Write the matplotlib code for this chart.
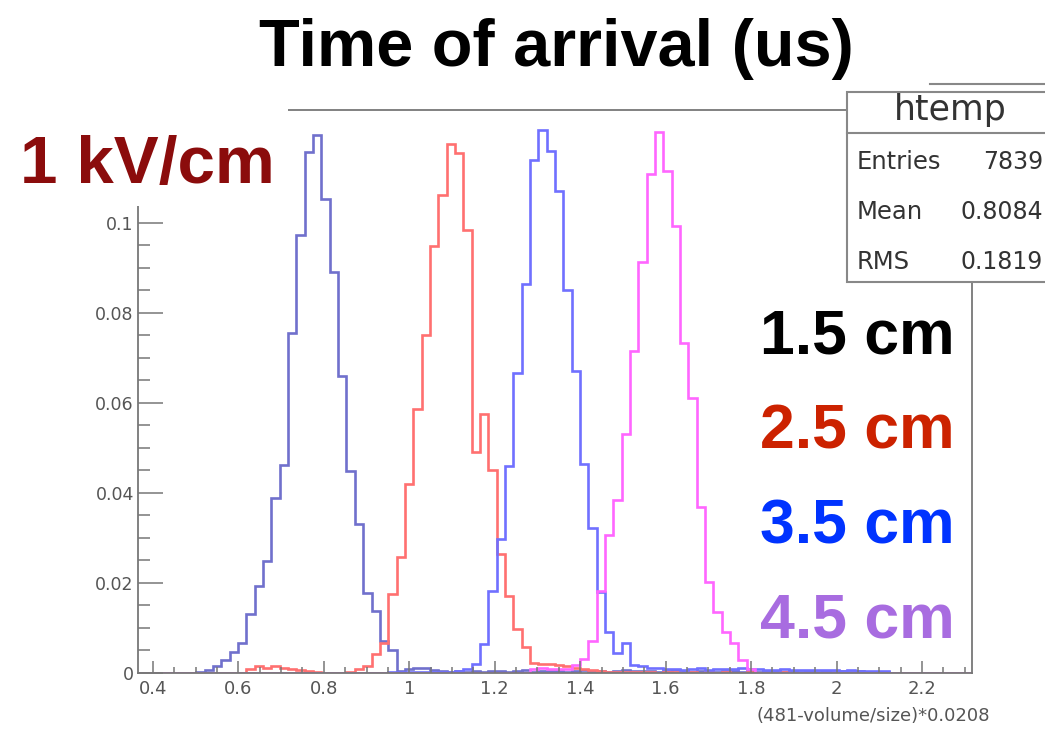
import numpy as np
import matplotlib.pyplot as plt
from matplotlib.patches import Rectangle
from matplotlib.lines import Line2D
from matplotlib.ticker import MultipleLocator, FixedLocator, FuncFormatter

# htemp binning: 100 bins over the axis range
x_lo, x_hi, n_bins = 0.365, 2.317, 100
y_ticks = [0, 0.02, 0.04, 0.06, 0.08, 0.1]

labels = ["1.5 cm", "2.5 cm", "3.5 cm", "4.5 cm"]
label_colors = ["black", "#cc2200", "#0033ff", "#a86ce0"]
line_colors = ["#7070cc", "#ff7070", "#7070ff", "#ff66ff"]

h15 = [0, 0, 0, 0, 0, 0, 0, 0.0003, 0.0006, 0.0016,
       0.0028, 0.0047, 0.0067, 0.0131, 0.0194, 0.0249, 0.0388, 0.0463, 0.0756, 0.0973,
       0.1158, 0.1195, 0.1053, 0.0892, 0.0659, 0.0449, 0.0332, 0.0178, 0.0138, 0.0071,
       0.0051, 0.0005, 0.0009, 0.0012, 0.0010, 0.0006, 0.0004, 0.0003, 0.0005, 0.0003,
       0.0004, 0.0003, 0.0005, 0.0004, 0.0003, 0.0004, 0.0006, 0.0003, 0.0004, 0.0005,
       0.0004, 0.0003, 0.0005, 0.0006, 0.0004, 0.0005, 0.0003, 0.0004, 0.0006, 0.0005,
       0.0004, 0.0005, 0.0003, 0.0004, 0.0006, 0.0004, 0.0003, 0.0005, 0.0004, 0.0003,
       0.0004, 0.0005, 0.0003, 0.0004, 0.0003, 0.0005, 0.0004, 0.0003, 0.0004, 0.0003,
       0.0004, 0.0003, 0.0004, 0.0003, 0.0005, 0.0003, 0.0004, 0.0003, 0.0003, 0.0002,
       0, 0, 0, 0, 0, 0, 0, 0, 0, 0]

h25 = [0, 0, 0, 0, 0, 0, 0, 0, 0, 0,
       0, 0, 0, 0.0008, 0.0015, 0.0012, 0.0016, 0.0010, 0.0008, 0.0006,
       0.0005, 0.0003, 0.0001, 0.0001, 0.0001, 0.0002, 0.0008, 0.0016, 0.0043, 0.0066,
       0.0175, 0.0257, 0.0420, 0.0587, 0.0751, 0.0949, 0.1062, 0.1175, 0.1155, 0.0984,
       0.0490, 0.0576, 0.0451, 0.0265, 0.0171, 0.0097, 0.0058, 0.0023, 0.0020, 0.0019,
       0.0018, 0.0016, 0.0012, 0.0009, 0.0006, 0.0004, 0.0002, 0.0002, 0.0003, 0.0002,
       0.0002, 0.0002, 0.0001, 0.0002, 0.0002, 0.0001, 0.0002, 0.0001, 0.0002, 0.0001,
       0.0002, 0.0001, 0.0001, 0.0002, 0.0001, 0.0001, 0.0001, 0.0002, 0.0001, 0.0001,
       0.0001, 0.0001, 0.0001, 0.0001, 0.0001, 0, 0, 0, 0, 0,
       0, 0, 0, 0, 0, 0, 0, 0, 0, 0]

h35 = [0, 0, 0, 0, 0, 0, 0, 0, 0, 0,
       0, 0, 0, 0, 0, 0, 0, 0, 0, 0,
       0, 0, 0, 0, 0, 0, 0, 0, 0, 0,
       0.0002, 0.0003, 0.0002, 0.0003, 0.0002, 0.0003, 0.0002, 0.0003, 0.0004, 0.0008,
       0.0020, 0.0064, 0.0183, 0.0298, 0.0461, 0.0667, 0.0865, 0.1139, 0.1207, 0.1159,
       0.1072, 0.0850, 0.0671, 0.0464, 0.0322, 0.0179, 0.0091, 0.0044, 0.0067, 0.0018,
       0.0015, 0.0012, 0.0010, 0.0008, 0.0009, 0.0007, 0.0008, 0.0010, 0.0007, 0.0008,
       0.0009, 0.0008, 0.0010, 0.0009, 0.0008, 0.0007, 0.0006, 0.0008, 0.0007, 0.0006,
       0.0007, 0.0006, 0.0007, 0.0006, 0.0005, 0.0006, 0.0005, 0.0004, 0.0005, 0.0004,
       0, 0, 0, 0, 0, 0, 0, 0, 0, 0]

h45 = [0, 0, 0, 0, 0, 0, 0, 0, 0, 0,
       0, 0, 0, 0, 0, 0, 0, 0, 0, 0,
       0, 0, 0, 0, 0, 0, 0, 0, 0, 0,
       0, 0, 0, 0, 0, 0, 0, 0, 0, 0,
       0, 0, 0, 0, 0, 0, 0, 0.0008, 0.0010, 0.0009,
       0.0008, 0.0009, 0.0018, 0.0032, 0.0071, 0.0183, 0.0306, 0.0385, 0.0532, 0.0715,
       0.0913, 0.1108, 0.1203, 0.1116, 0.0993, 0.0734, 0.0611, 0.0369, 0.0202, 0.0135,
       0.0091, 0.0067, 0.0028, 0.0008, 0, 0, 0, 0, 0, 0,
       0, 0, 0, 0, 0, 0, 0, 0, 0, 0,
       0, 0, 0, 0, 0, 0, 0, 0, 0, 0]

stats_names = ["Entries", "Mean", "RMS"]
stats_values = ["7839", "0.8084", "0.1819"]

W, H = 1045, 729


def fx(x):
    return x / W


def fy(y):
    return 1 - y / H


fig = plt.figure(figsize=(W / 100, H / 100), dpi=100)
ax = fig.add_axes([fx(138), fy(673), fx(972 - 138), (673 - 110) / H])

edges = np.linspace(x_lo, x_hi, n_bins + 1)
for vals, c in zip([h15, h25, h35, h45], line_colors):
    ax.stairs(vals, edges, color=c, lw=1.9, baseline=0)

ax.set_xlim(x_lo, x_hi)
ax.set_ylim(0, 0.1251)

gray = "#777777"
for s in ax.spines.values():
    s.set_color(gray)
    s.set_linewidth(1.3)

ax.xaxis.set_major_locator(MultipleLocator(0.2))
ax.xaxis.set_minor_locator(MultipleLocator(0.05))
ax.yaxis.set_major_locator(FixedLocator(y_ticks))
ax.yaxis.set_minor_locator(FixedLocator(np.arange(0, 0.1001, 0.005)))
fmt = FuncFormatter(lambda v, p: f"{v:g}")
ax.xaxis.set_major_formatter(fmt)
ax.yaxis.set_major_formatter(fmt)
ax.tick_params(axis="x", which="major", direction="in", length=8.5, width=1.1,
               color=gray, labelcolor="#555555", labelsize=13, pad=5)
ax.tick_params(axis="x", which="minor", direction="in", length=4.3, width=1.1, color=gray)
ax.tick_params(axis="y", which="major", direction="in", length=18, width=1.1,
               color=gray, labelcolor="#555555", labelsize=12.5, pad=3)
ax.tick_params(axis="y", which="minor", direction="in", length=8.6, width=1.1, color=gray)

# white label box covering the upper-left frame corner
fig.patches.append(Rectangle((0, fy(206)), fx(288), (206 - 96) / H,
                             transform=fig.transFigure, facecolor="white",
                             edgecolor="none", zorder=2))
fig.text(fx(20), fy(183), "1 kV/cm", fontsize=48.5, fontweight="bold",
         family="Liberation Sans", color="#8b0c0c", zorder=3)

# stats box
fig.patches.append(Rectangle((fx(847), fy(282)), fx(220), (282 - 92) / H,
                             transform=fig.transFigure, facecolor="white",
                             edgecolor="#888888", lw=1.5, zorder=2))
fig.lines.append(Line2D([fx(847), fx(1045)], [fy(133), fy(133)],
                        transform=fig.transFigure, color="#888888", lw=1.5, zorder=3))
fig.lines.append(Line2D([fx(930), fx(1045)], [fy(84), fy(84)],
                        transform=fig.transFigure, color="#888888", lw=1.5, zorder=3))
fig.text(fx(950), fy(120), "htemp", fontsize=25, ha="center", va="baseline",
         color="#333333", zorder=4)
for i, (n, v) in enumerate(zip(stats_names, stats_values)):
    yb = 169 + i * 50
    fig.text(fx(857), fy(yb), n, fontsize=17.5, va="baseline", color="#333333", zorder=4)
    fig.text(fx(1043), fy(yb), v, fontsize=17, va="baseline", ha="right",
             color="#333333", zorder=4)

fig.text(fx(556), fy(66), "Time of arrival (us)", fontsize=48, fontweight="bold",
         family="Liberation Sans", ha="center", va="baseline")

for i, (lab, c) in enumerate(zip(labels, label_colors)):
    fig.text(fx(955), fy(353 + i * 95), lab, fontsize=45, fontweight="bold",
             family="Liberation Sans", ha="right", va="baseline", color=c, zorder=4)

fig.text(fx(990), fy(721), "(481-volume/size)*0.0208", fontsize=13,
         ha="right", va="baseline", color="#555555")

fig.savefig("out.png", dpi=100)
